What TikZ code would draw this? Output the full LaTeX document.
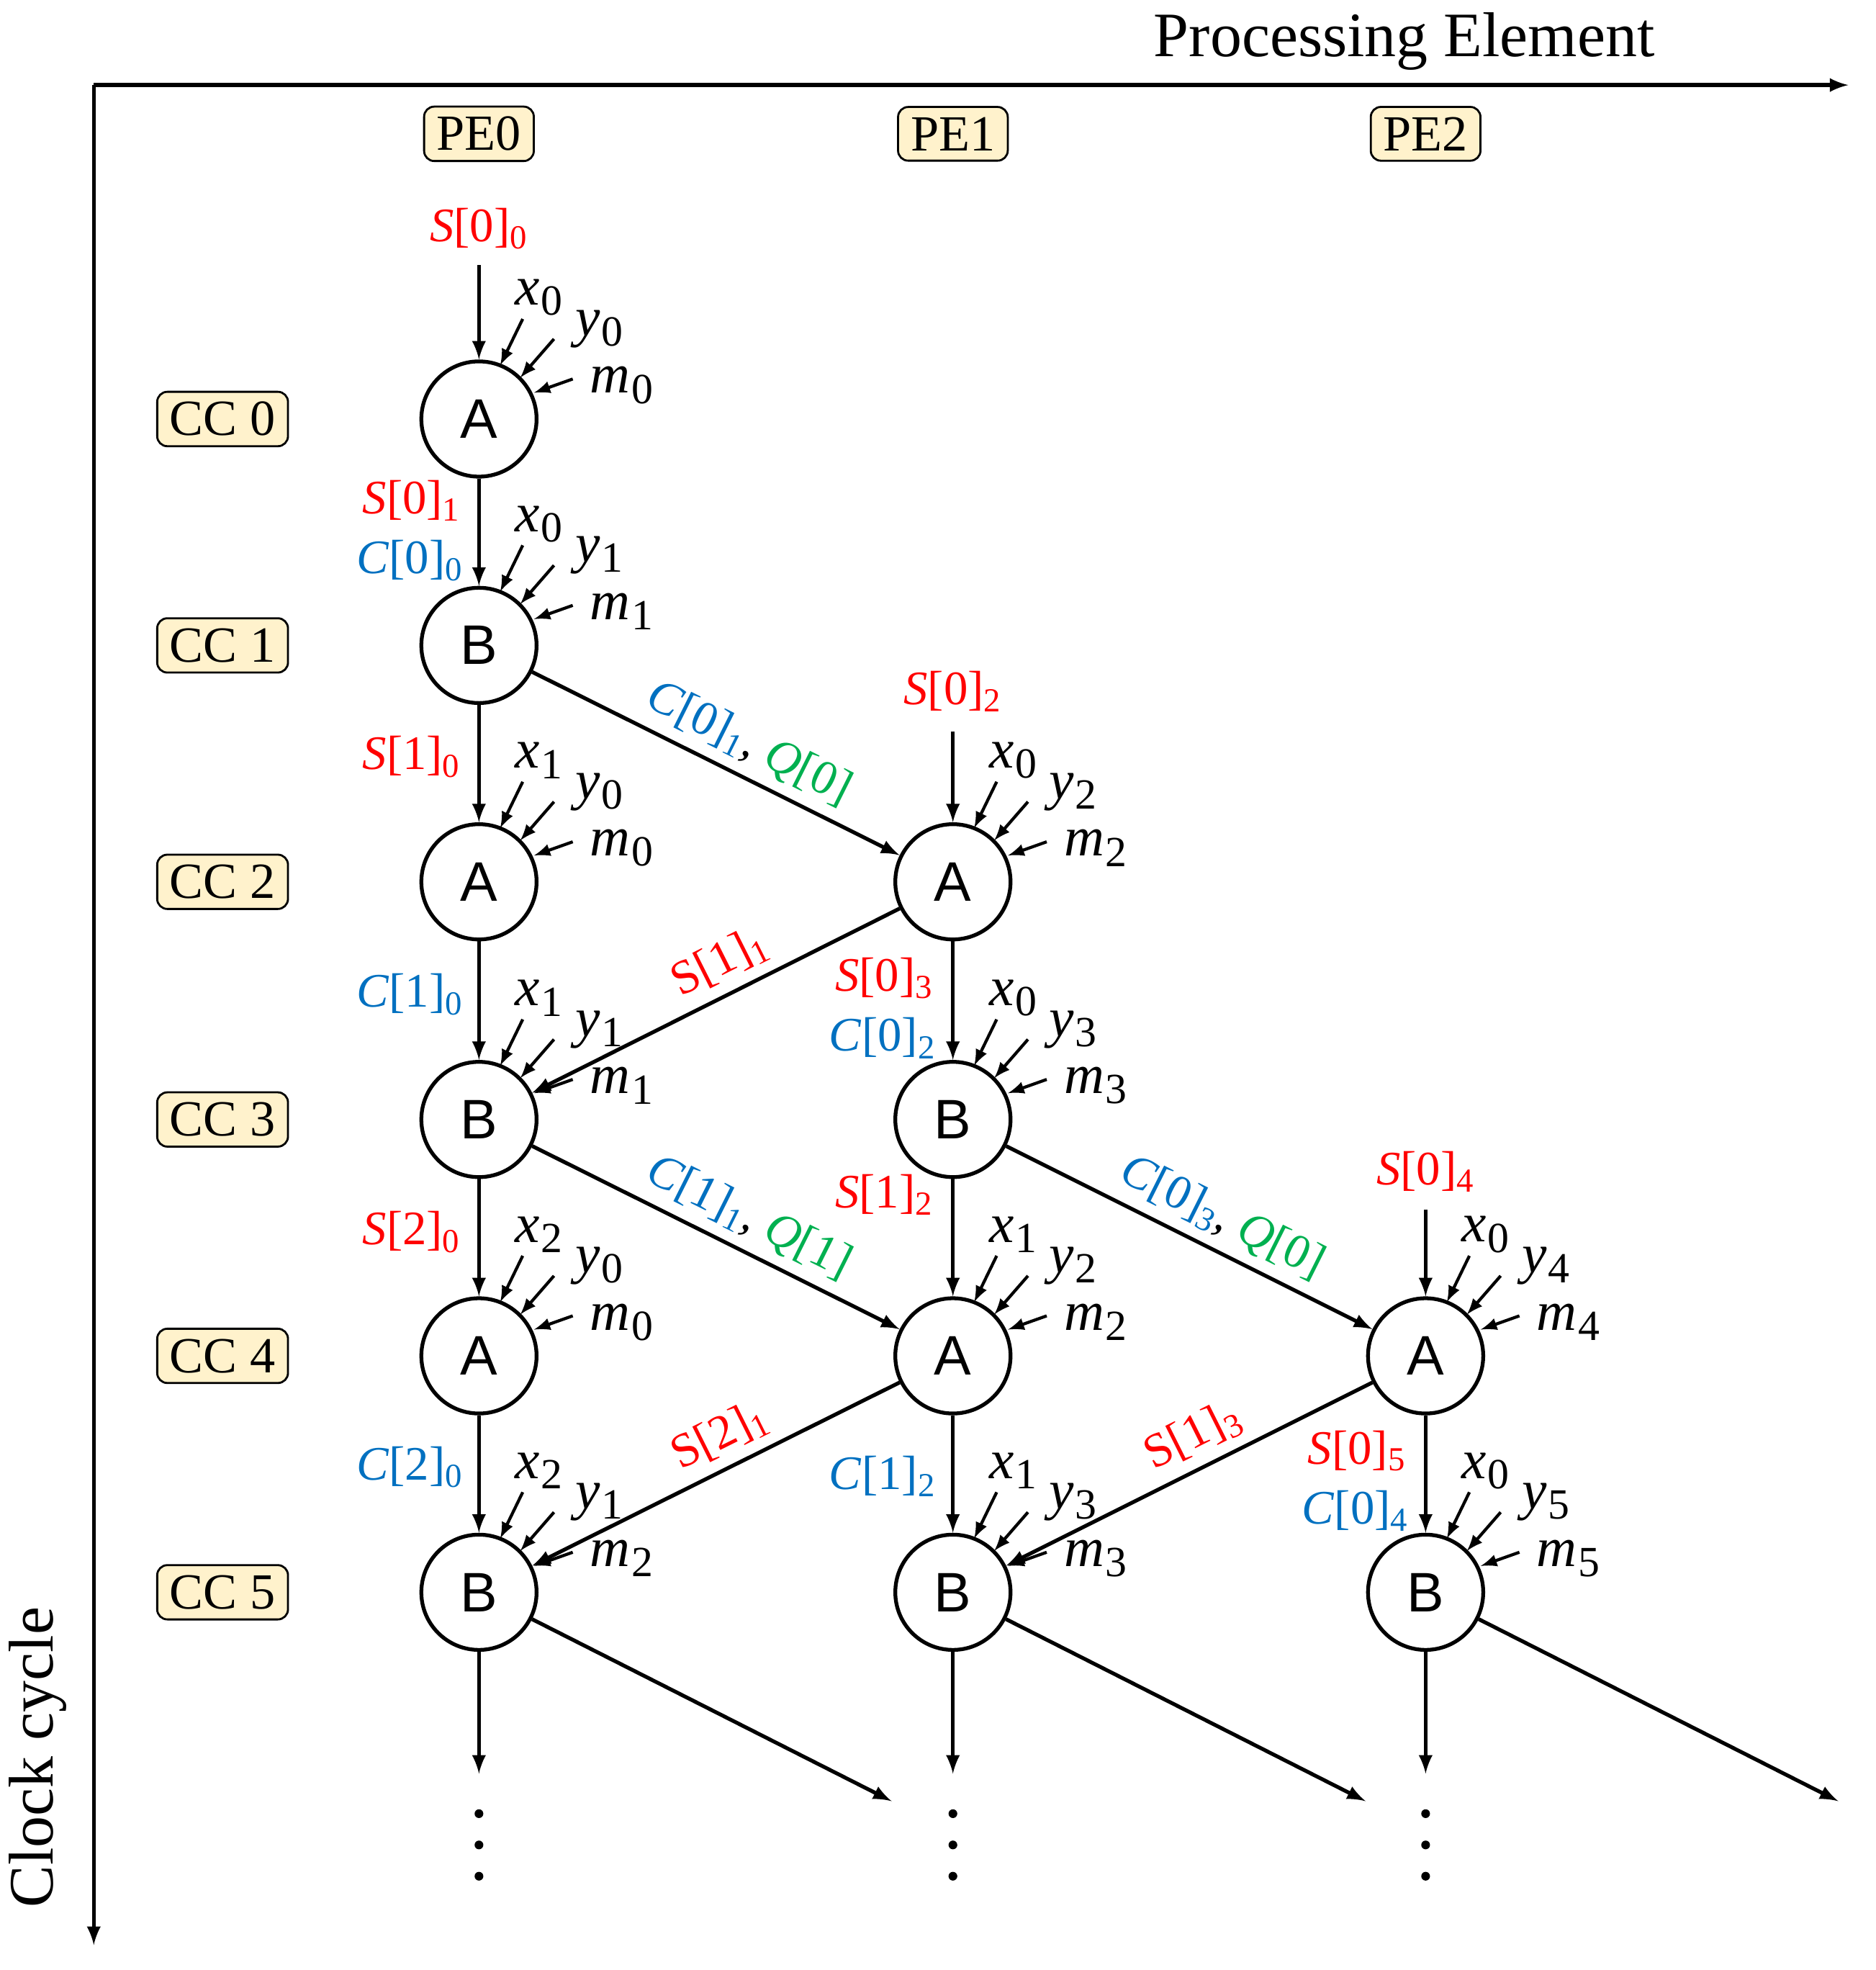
\documentclass[tikz,border=0pt]{standalone}
\usepackage{fontspec}
\setmainfont{Liberation Serif}
\newfontfamily\opfont{Liberation Sans}
\usetikzlibrary{positioning}

\definecolor{sred}{HTML}{FF0000}
\definecolor{cblue}{HTML}{0070C0}
\definecolor{qgreen}{HTML}{00B050}
\definecolor{tagfill}{HTML}{FFF2CC}

% coloured operand labels
\newcommand{\Sval}[2]{\textcolor{sred}{\textit{S}[#1]\textsubscript{#2}}}
\newcommand{\Cval}[2]{\textcolor{cblue}{\textit{C}[#1]\textsubscript{#2}}}
\newcommand{\Qval}[1]{\textcolor{qgreen}{\textit{Q}[#1]}}
\newcommand{\var}[2]{\textit{#1}\kern0.5pt\raisebox{-0.4ex}{\fontsize{17}{17}\selectfont #2}}

% three small input arrows with labels at a node
\newcommand{\feed}[4]{%
  \draw[inarr] ([shift={(35,-80)}]#1.center) -- ([shift={(17,-43)}]#1.center);
  \draw[inarr] ([shift={(60,-64)}]#1.center) -- ([shift={(33,-33)}]#1.center);
  \draw[inarr] ([shift={(75,-32)}]#1.center) -- ([shift={(44,-21)}]#1.center);
  \node[varlbl] (#1x) at ([shift={(48,-97)}]#1.center) {\var{x}{#2}};
  \node[varlbl] (#1y) at ([shift={(96,-72)}]#1.center) {\var{y}{#3}};
  \node[varlbl] (#1m) at ([shift={(114,-27)}]#1.center) {\var{m}{#4}};
}

\begin{document}
\begin{tikzpicture}[x=0.01737cm,y=-0.01737cm,>=latex,line width=1.5pt,
    op/.style={circle,draw,minimum size=1.6cm,inner sep=0pt,font=\opfont\fontsize{22}{22}\selectfont},
    tag/.style={draw,rounded corners=4pt,fill=tagfill,line width=0.8pt,font=\fontsize{20}{20}\selectfont,inner xsep=5pt,inner ysep=4pt},
    inarr/.style={->,line width=1.2pt},
    varlbl/.style={font=\fontsize{22}{22}\selectfont,inner sep=0pt},
    lbl/.style={font=\fontsize{19}{19}\selectfont,inner sep=1pt},
    dlbl/.style={lbl,sloped,above,yshift=3pt},
    flow/.style={->}]
    \useasboundingbox (0,0) rectangle (1500,1575);

    % axes
    \coordinate (origin) at (75,68);
    \coordinate (xend) at (1478,68);
    \coordinate (yend) at (75,1555);
    \draw[->] (origin) -- (xend);
    \draw[->] (origin) -- (yend);
    \node[font=\fontsize{25}{25}\selectfont] (pelbl) at (1123,33) {Processing Element};
    \node[font=\fontsize{25}{25}\selectfont,rotate=90] (cclbl) at (30,1405) {Clock cycle};

    % processing elements and clock cycles
    \foreach \i/\x in {0/383,1/762,2/1140}
        \node[tag] (pe\i) at (\x,107) {PE\i};
    \foreach \i/\y in {0/335,1/516,2/705,3/895,4/1084,5/1273}
        \node[tag] (cc\i) at (178,\y) {CC \i};

    % operation nodes
    \node[op] (a00) at (383,335) {A};
    \node[op] (b01) at (383,516) {B};
    \node[op] (a02) at (383,705) {A};
    \node[op] (b03) at (383,895) {B};
    \node[op] (a04) at (383,1084) {A};
    \node[op] (b05) at (383,1273) {B};
    \node[op] (a12) at (762,705) {A};
    \node[op] (b13) at (762,895) {B};
    \node[op] (a14) at (762,1084) {A};
    \node[op] (b15) at (762,1273) {B};
    \node[op] (a24) at (1140,1084) {A};
    \node[op] (b25) at (1140,1273) {B};

    % inputs
    \feed{a00}{0}{0}{0}
    \feed{b01}{0}{1}{1}
    \feed{a02}{1}{0}{0}
    \feed{b03}{1}{1}{1}
    \feed{a04}{2}{0}{0}
    \feed{b05}{2}{1}{2}
    \feed{a12}{0}{2}{2}
    \feed{b13}{0}{3}{3}
    \feed{a14}{1}{2}{2}
    \feed{b15}{1}{3}{3}
    \feed{a24}{0}{4}{4}
    \feed{b25}{0}{5}{5}

    % state entering each column
    \node[lbl] (s00) at (383,183) {\Sval{0}{0}};
    \node[lbl] (s02) at (762,553) {\Sval{0}{2}};
    \node[lbl] (s04) at (1140,937) {\Sval{0}{4}};
    \draw[flow] (s00) ++(0,29) coordinate (s00t) -- (a00);
    \draw[flow] (s02) ++(0,32) coordinate (s02t) -- (a12);
    \draw[flow] (s04) ++(0,30) coordinate (s04t) -- (a24);

    % vertical flows
    \draw[flow] (a00) -- (b01);
    \draw[flow] (b01) -- (a02);
    \draw[flow] (a02) -- (b03);
    \draw[flow] (b03) -- (a04);
    \draw[flow] (a04) -- (b05);
    \draw[flow] (a12) -- (b13);
    \draw[flow] (b13) -- (a14);
    \draw[flow] (a14) -- (b15);
    \draw[flow] (a24) -- (b25);
    \node[lbl,anchor=east] (l1) at (372,400) {\Sval{0}{1}};
    \node[lbl,anchor=east] (l2) at (374,448) {\Cval{0}{0}};
    \node[lbl,anchor=east] (l3) at (372,605) {\Sval{1}{0}};
    \node[lbl,anchor=east] (l4) at (374,795) {\Cval{1}{0}};
    \node[lbl,anchor=east] (l5) at (372,985) {\Sval{2}{0}};
    \node[lbl,anchor=east] (l6) at (374,1173) {\Cval{2}{0}};
    \node[lbl,anchor=east] (l7) at (750,782) {\Sval{0}{3}};
    \node[lbl,anchor=east] (l8) at (752,830) {\Cval{0}{2}};
    \node[lbl,anchor=east] (l9) at (750,955) {\Sval{1}{2}};
    \node[lbl,anchor=east] (l10) at (752,1180) {\Cval{1}{2}};
    \node[lbl,anchor=east] (l11) at (1128,1160) {\Sval{0}{5}};
    \node[lbl,anchor=east] (l12) at (1130,1208) {\Cval{0}{4}};

    % diagonal flows
    \draw[flow] (b01) -- node[dlbl,pos=0.55] {\Cval{0}{1}, \Qval{0}} (a12);
    \draw[flow] (b03) -- node[dlbl,pos=0.55] {\Cval{1}{1}, \Qval{1}} (a14);
    \draw[flow] (b13) -- node[dlbl,pos=0.55] {\Cval{0}{3}, \Qval{0}} (a24);
    \draw[flow] (a12) -- node[dlbl,pos=0.45] {\textcolor{sred}{S[1]\textsubscript{1}}} (b03);
    \draw[flow] (a14) -- node[dlbl,pos=0.45] {\textcolor{sred}{S[2]\textsubscript{1}}} (b05);
    \draw[flow] (a24) -- node[dlbl,pos=0.45] {\textcolor{sred}{S[1]\textsubscript{3}}} (b15);

    % continuation
    \foreach \c/\x in {0/383,1/762,2/1140} {
        \coordinate (down\c) at (\x,1418);
        \coordinate (diag\c) at (\x+330,1440);
        \draw[flow] (b\c5) -- (down\c);
        \draw[flow] (b\c5) -- (diag\c);
        \foreach \y in {1450,1475,1500}
            \fill (\x,\y) circle (3.5);
    }
\end{tikzpicture}
\end{document}
